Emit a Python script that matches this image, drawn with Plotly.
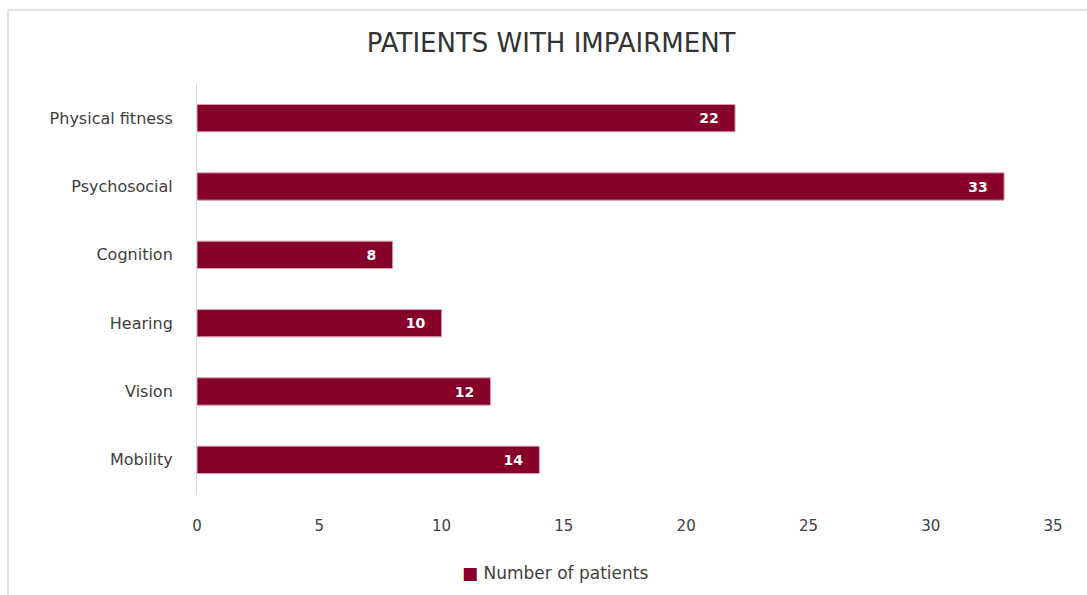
import plotly.graph_objects as go

categories = ["Mobility", "Vision", "Hearing", "Cognition", "Psychosocial", "Physical fitness"]
patients = [14, 12, 10, 8, 33, 22]
x_ticks = [0, 5, 10, 15, 20, 25, 30, 35]

BAR_COLOR = "#86002a"
FONT = "DejaVu Sans"
TEXT_COLOR = "#404040"

fig = go.Figure()
fig.add_trace(
    go.Bar(
        x=patients,
        y=categories,
        orientation="h",
        name="Number of patients",
        marker=dict(color=BAR_COLOR, line=dict(color="#d9a0b0", width=1)),
        texttemplate="<b>%{x}</b>\u00a0\u00a0\u00a0",
        textposition="inside",
        insidetextanchor="end",
        textfont=dict(family=FONT, size=14, color="white"),
        showlegend=False,
    )
)

fig.update_layout(
    width=1087,
    height=595,
    template="plotly_white",
    paper_bgcolor="white",
    plot_bgcolor="white",
    font=dict(family=FONT, size=14, color=TEXT_COLOR),
    title=dict(
        text="PATIENTS WITH IMPAIRMENT",
        x=0.507,
        xanchor="center",
        y=0.928,
        yanchor="middle",
        font=dict(family=FONT, size=26, color="#333333"),
    ),
    margin=dict(l=197, r=34, t=84, b=101),
    bargap=0.6,
    xaxis=dict(
        range=[0, 35],
        tickvals=x_ticks,
        showgrid=False,
        zeroline=False,
        showline=False,
        ticks="",
        ticklabelstandoff=21,
        tickfont=dict(family=FONT, size=15, color=TEXT_COLOR),
    ),
    yaxis=dict(
        showgrid=False,
        zeroline=False,
        showline=True,
        linecolor="#d9d9d9",
        linewidth=1,
        ticks="",
        ticklabelstandoff=20,
        tickfont=dict(family=FONT, size=16, color=TEXT_COLOR),
    ),
    annotations=[
        dict(
            text=f"<span style='color:{BAR_COLOR}'>\u25a0</span> Number of patients",
            xref="paper",
            yref="paper",
            x=0.418,
            y=-0.193,
            xanchor="center",
            yanchor="middle",
            showarrow=False,
            font=dict(family=FONT, size=17, color=TEXT_COLOR),
        )
    ],
    shapes=[
        dict(
            type="rect",
            xref="paper",
            yref="paper",
            x0=-0.2208,
            x1=1.06,
            y0=-0.3,
            y1=1.1805,
            line=dict(color="#d9d9d9", width=1.5),
            fillcolor="rgba(0,0,0,0)",
            layer="below",
        )
    ],
)

fig.write_html(
    "out.html",
    config={"displayModeBar": False},
    post_script="document.body.style.margin = '0';",
)
